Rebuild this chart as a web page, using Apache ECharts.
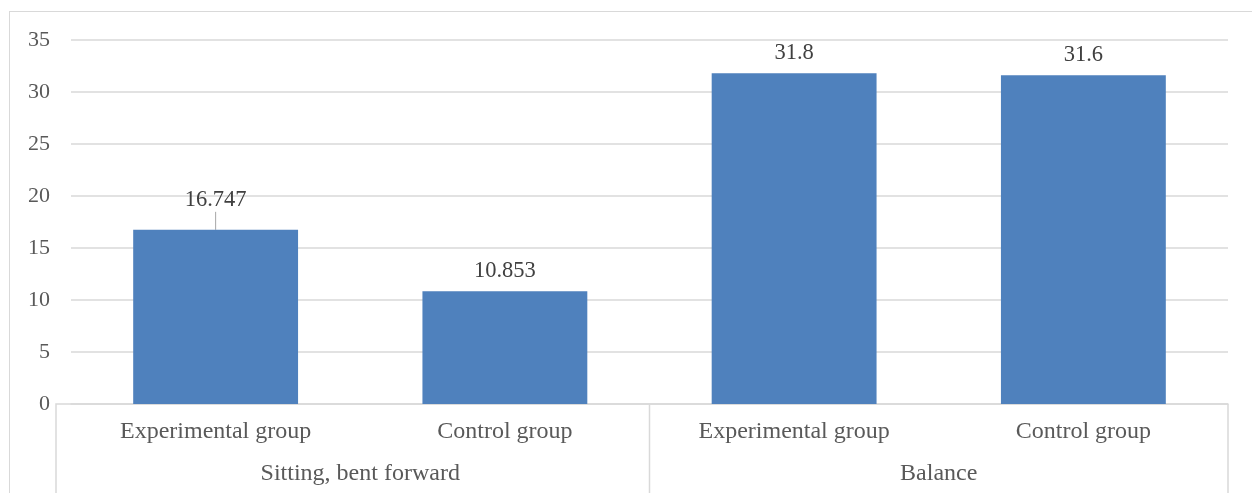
<!DOCTYPE html>
<html>
<head>
<meta charset="utf-8">
<script src="https://cdn.jsdelivr.net/npm/echarts@6/dist/echarts.min.js"></script>
<style>
  html, body { margin: 0; padding: 0; background: #fff; }
  #chart { width: 1252px; height: 493px; }
  #frame { position: absolute; left: 9px; top: 11px; width: 1243px; height: 482px;
           border-left: 1px solid #d9d9d9; border-top: 1px solid #d9d9d9; pointer-events: none; }
</style>
</head>
<body>
<div id="chart"></div>
<div id="frame"></div>
<script>
const categories = ['Experimental group', 'Control group', 'Experimental group', 'Control group'];
const groups = ['Sitting, bent forward', 'Balance'];
const values = [16.747, 10.853, 31.8, 31.6];
const yTicks = { min: 0, max: 35, interval: 5 };

const textColor = '#595959';
const gridColor = '#d9d9d9';
const font = 'Liberation Serif, Times New Roman, serif';

const seriesData = values.map(function (v, i) {
  return { value: v, labelLine: { show: i === 0 } };
});

const chart = echarts.init(document.getElementById('chart'));
chart.setOption({
  animation: false,
  grid: { left: 71, right: 24, top: 40, bottom: 89 },
  xAxis: [
    {
      type: 'category',
      data: categories,
      axisLine: { show: true, lineStyle: { color: gridColor, width: 1.5 } },
      axisTick: { show: false },
      axisLabel: { color: textColor, fontFamily: font, fontSize: 24, margin: 16, interval: 0 }
    },
    {
      type: 'category',
      data: groups,
      position: 'bottom',
      axisLine: { show: false },
      axisTick: { show: false },
      axisLabel: { color: textColor, fontFamily: font, fontSize: 24, margin: 58, interval: 0 }
    }
  ],
  yAxis: {
    type: 'value',
    min: yTicks.min, max: yTicks.max, interval: yTicks.interval,
    axisLine: { show: false },
    axisTick: { show: false },
    splitLine: { lineStyle: { color: gridColor, width: 1.5 } },
    axisLabel: { color: textColor, fontFamily: font, fontSize: 22, margin: 21 }
  },
  series: [{
    type: 'bar',
    xAxisIndex: 0,
    data: seriesData,
    barWidth: '57%',
    itemStyle: { color: '#4F81BD' },
    label: {
      show: true, position: 'top', distance: 9,
      color: '#404040', fontFamily: font, fontSize: 22.5
    },
    labelLayout: function (p) { return p.dataIndex === 0 ? { dy: -9 } : {}; },
    labelLine: { show: false, lineStyle: { color: '#a6a6a6', width: 1 } }
  }]
});

// group separators, positioned from the category axis scale
const px = function (i) { return chart.convertToPixel({ xAxisIndex: 0 }, i); };
const band = px(1) - px(0);
const y0 = chart.convertToPixel({ yAxisIndex: 0 }, 0);
const bottom = 493;
const leftX = px(0) - band / 2;
const midX = (px(1) + px(2)) / 2;
const rightX = px(3) + band / 2;
const lineStyle = { stroke: gridColor, lineWidth: 1.5, fill: null };
chart.setOption({
  graphic: [
    { type: 'polyline', silent: true, style: lineStyle,
      shape: { points: [[leftX - 15, bottom], [leftX - 15, y0], [leftX, y0]] } },
    { type: 'line', silent: true, style: lineStyle,
      shape: { x1: midX, y1: y0, x2: midX, y2: bottom } },
    { type: 'line', silent: true, style: lineStyle,
      shape: { x1: rightX, y1: y0, x2: rightX, y2: bottom } }
  ]
});
</script>
</body>
</html>
